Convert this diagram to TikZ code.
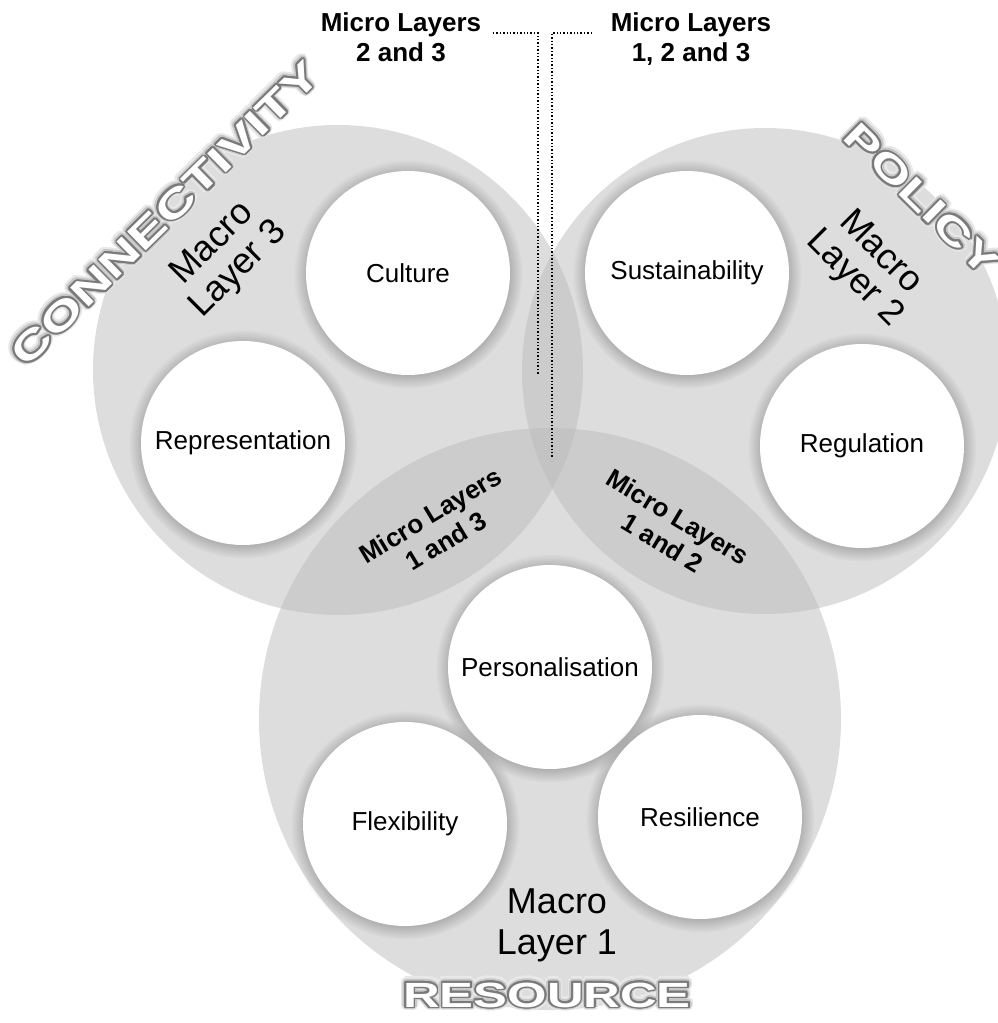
\documentclass[tikz,border=0pt]{standalone}
\usepackage{fontspec}
\setmainfont{Liberation Sans}
\newfontfamily\widebold{Liberation Sans}[FakeStretch=1.45]
\usepackage{contour}
\usetikzlibrary{shadows}
\definecolor{macrogray}{RGB}{187,187,187}
\newcommand{\glowA}[1]{\contourlength{5pt}\contour{black!9}{\textcolor{black!9}{#1}}}
\newcommand{\glowB}[1]{\contourlength{3.3pt}\contour{black!22}{\textcolor{black!22}{#1}}}
\newcommand{\outl}[1]{\contourlength{1.8pt}\contour{black!52}{\textcolor{white}{#1}}}
\begin{document}
\begin{tikzpicture}[x=1pt,y=-1pt,
  macro/.style={circle, fill=macrogray, fill opacity=0.5, draw=none, inner sep=0pt},
  item/.style={circle, fill=white, minimum size=204pt, inner sep=0pt,
    font=\fontsize{26}{30}\selectfont,
    circular drop shadow={shadow scale=1.12, shadow xshift=0pt, shadow yshift=-1pt, opacity=0.6}},
  micro/.style={font=\bfseries\fontsize{26}{30}\selectfont, align=center, inner sep=0pt},
  macrolab/.style={font=\fontsize{36}{37}\selectfont, align=center, inner sep=0pt},
  title/.style={font=\widebold\bfseries\fontsize{#1}{#1}\selectfont, inner sep=0pt},
  leader/.style={draw=black, line width=1.4pt, dotted}
]
\useasboundingbox (0,0) rectangle (998,1023);
% macro layers
\node[macro, minimum size=490pt] (ML3) at (338,370) {};
\node[macro, minimum size=486pt] (ML2) at (765,371) {};
\node[macro, minimum size=582pt] (ML1) at (550,719) {};
% micro items
\node[item] (culture) at (408,273) {Culture};
\node[item] (repr) at (243,443) {Representation};
\node[item] (sust) at (687,273) {Sustainability};
\node[item] (reg) at (862,446) {Regulation};
\node[item] (pers) at (550,667) {Personalisation};
\node[item] (flex) at (405,824) {Flexibility};
\node[item] (resil) at (700,817) {Resilience};
% titles (glow + outlined)
\node[title=38.5, rotate=44.5] (connA) at (166,214) {\glowA{CONNECTIVITY}};
\node[title=38.5, rotate=44.5] (connB) at (166,214) {\glowB{CONNECTIVITY}};
\node[title=38.5, rotate=44.5] (conn) at (166,214) {\outl{CONNECTIVITY}};
\node[title=37, rotate=-44.5] (polA) at (921,200) {\glowA{POLICY}};
\node[title=37, rotate=-44.5] (polB) at (921,200) {\glowB{POLICY}};
\node[title=37, rotate=-44.5] (pol) at (921,200) {\outl{POLICY}};
\node[title=35] (resA) at (547,996) {\glowA{RESOURCE}};
\node[title=35] (resB) at (547,996) {\glowB{RESOURCE}};
\node[title=35] (res) at (547,996) {\outl{RESOURCE}};
% macro labels
\node[macrolab, rotate=45] (m3) at (226,257) {Macro\\Layer 3};
\node[macrolab, rotate=-45] (m2) at (867,266) {Macro\\Layer 2};
\node[macrolab, anchor=north, font=\fontsize{36}{41}\selectfont] (m1) at (557,889) {Macro\\Layer 1};
% micro labels
\node[micro, anchor=north] (mic23) at (401,12) {Micro Layers\\2 and 3};
\node[micro, anchor=north] (mic123) at (691,12) {Micro Layers\\1, 2 and 3};
\node[micro, rotate=31] (mic13) at (438,528) {Micro Layers\\1 and 3};
\node[micro, rotate=-31] (mic12) at (670,530) {Micro Layers\\1 and 2};
% leaders
\coordinate (s23) at (493,33);
\coordinate (e23) at (538,375);
\coordinate (s123) at (592,33);
\coordinate (e123) at (552,457);
\draw[leader] (s23) -| (e23);
\draw[leader] (s123) -| (e123);
\end{tikzpicture}
\end{document}
